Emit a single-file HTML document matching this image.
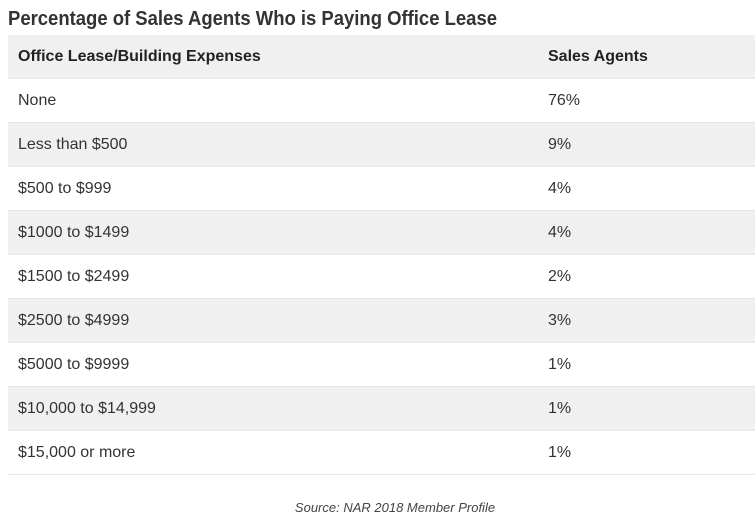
<!DOCTYPE html>
<html><head><meta charset="utf-8"><style>
body{margin:0;width:755px;height:530px;background:#fff;overflow:hidden;font-family:"Liberation Sans",sans-serif;color:#333;position:relative}
#title{position:absolute;left:0;top:0}
table{position:absolute;left:8px;top:35px;width:747px;border-collapse:collapse;font-size:16px}
td,th{height:43px;padding:0 0 0 10px;text-align:left;vertical-align:middle}
th{font-weight:bold;color:#222}
tr:nth-child(odd){background:#f0f0f0}
tr{border-bottom:1px solid #e8e8e8}
td.v,th.v{padding-left:0;position:absolute;left:540px;line-height:43px}
.src{position:absolute;top:500px;left:0;width:790px;text-align:center;font-style:italic;font-size:13px;color:#444}
</style></head><body>
<svg id="title" width="755" height="34"><text x="8" y="25" font-family="Liberation Sans Narrow, Liberation Sans, sans-serif" font-weight="bold" font-size="20" fill="#333" textLength="489" lengthAdjust="spacingAndGlyphs">Percentage of Sales Agents Who is Paying Office Lease</text></svg>
<table><tbody id="tb"></tbody></table>
<div class="src">Source: NAR 2018 Member Profile</div>
<script>
const categories=["None","Less than $500","$500 to $999","$1000 to $1499","$1500 to $2499","$2500 to $4999","$5000 to $9999","$10,000 to $14,999","$15,000 or more"];
const values=[76,9,4,4,2,3,1,1,1];
const tb=document.getElementById('tb');
let h=document.createElement('tr');


h.innerHTML='<th>Office Lease/Building Expenses</th><th class="v">Sales Agents</th>';
tb.appendChild(h);
categories.forEach((c,i)=>{
 const r=document.createElement('tr');
 
 
 r.innerHTML='<td>'+c+'</td><td class="v">'+values[i]+'%</td>';
 tb.appendChild(r);
});
</script>
</body></html>
